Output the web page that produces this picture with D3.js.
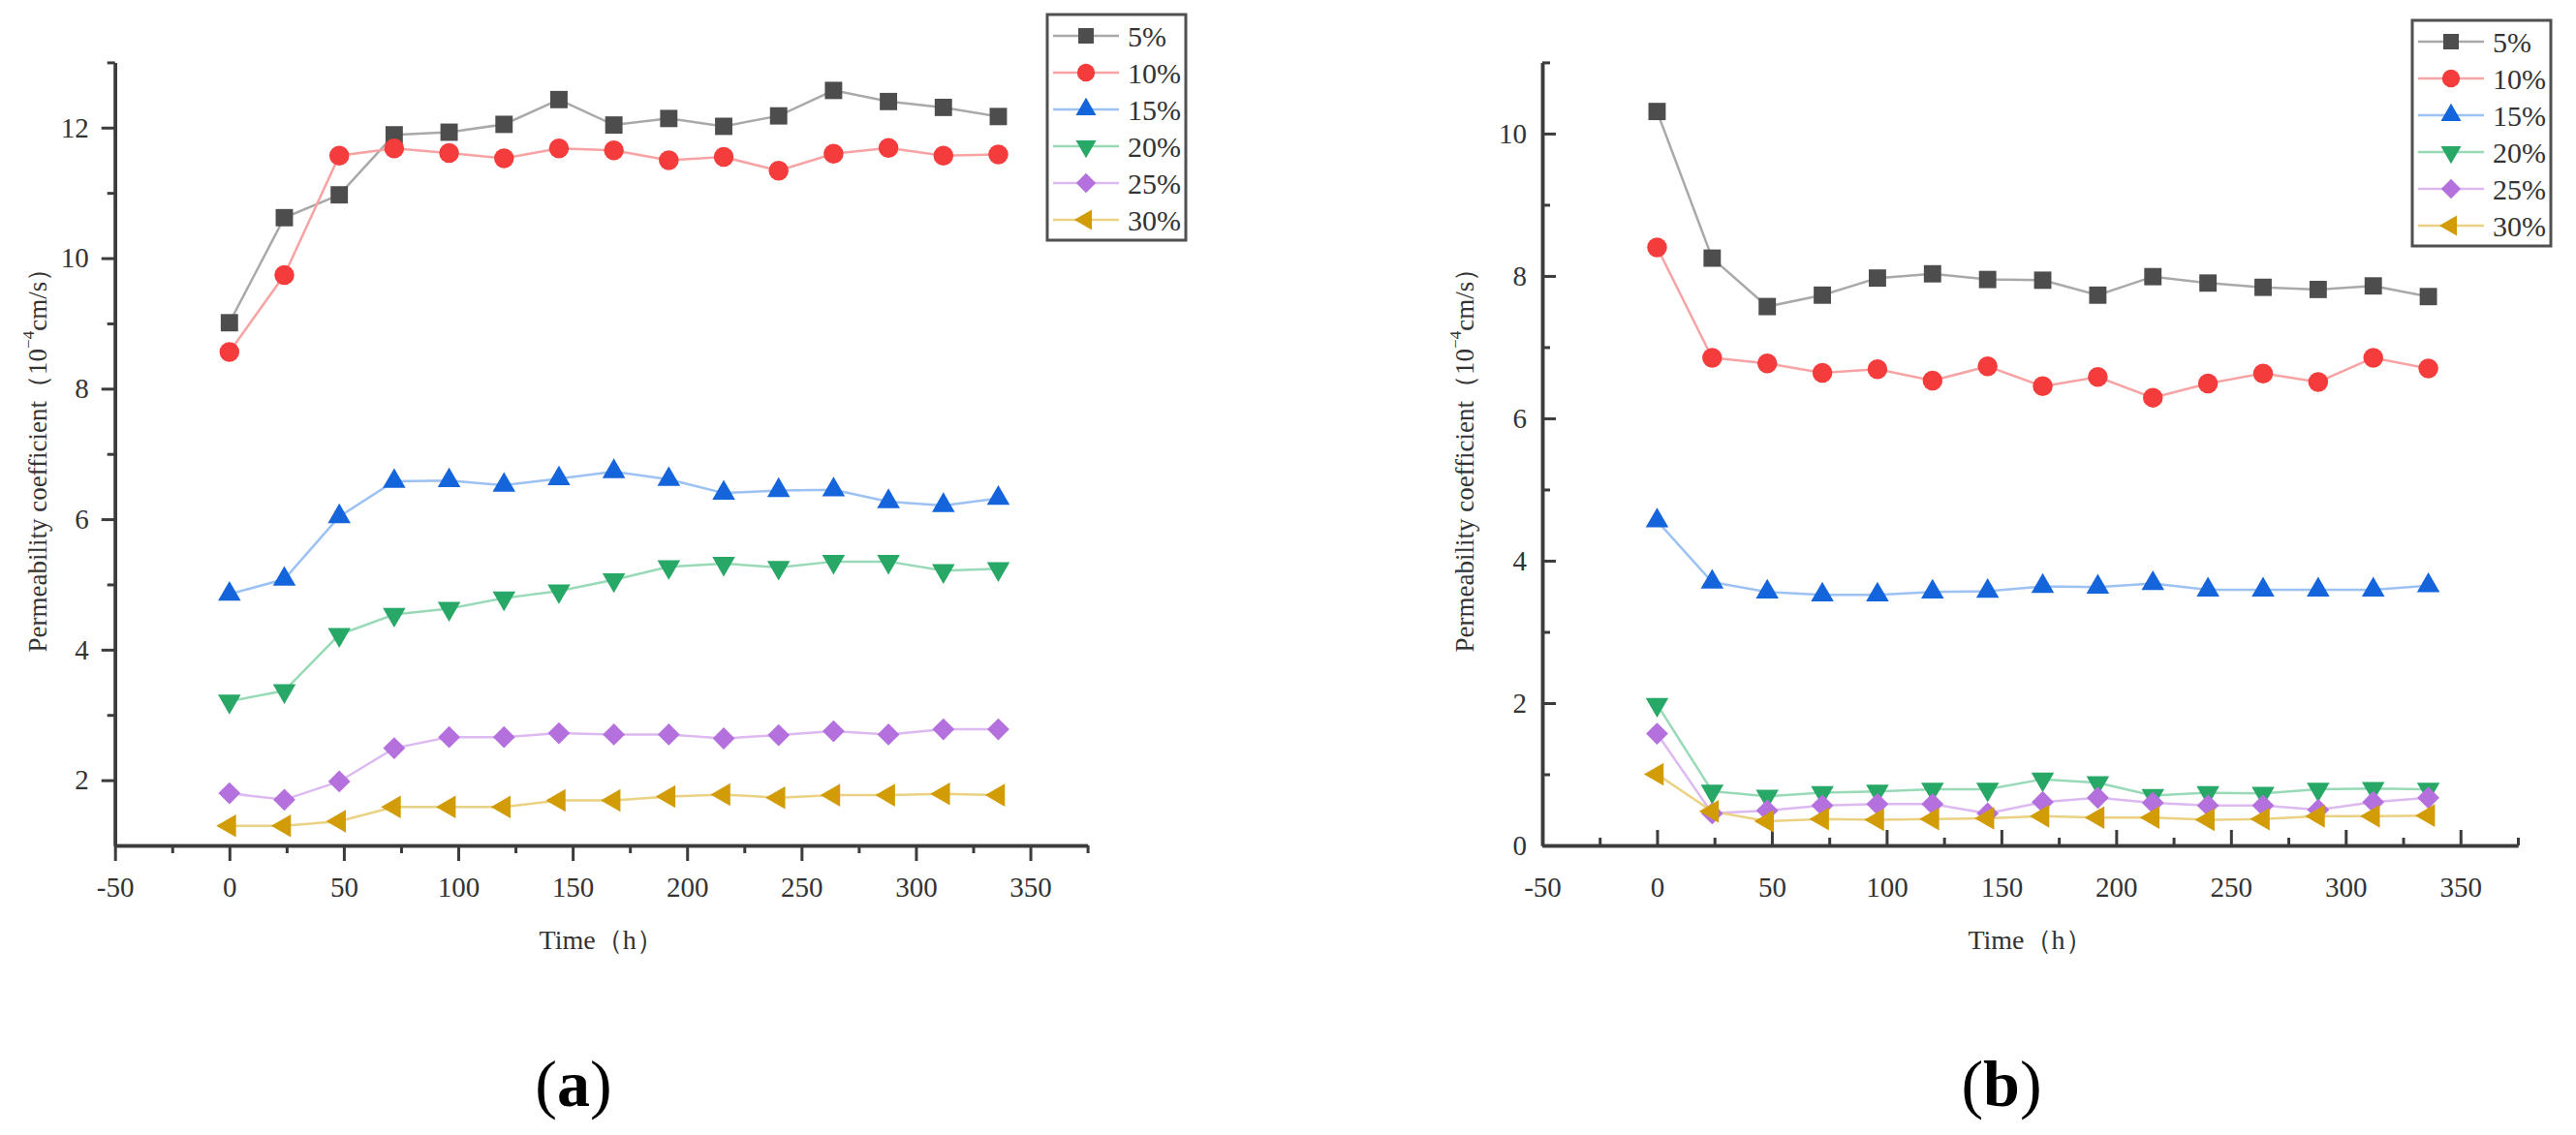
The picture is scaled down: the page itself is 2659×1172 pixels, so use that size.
<!DOCTYPE html>
<html>
<head>
<meta charset="utf-8">
<script src="https://cdn.jsdelivr.net/npm/d3@7/dist/d3.min.js"></script>
<style>
	html, body { margin: 0; padding: 0; background: #ffffff; }
	svg { display: block; }
</style>
</head>
<body>
<script>
// time axis, one sample every 24 h
var times = [0, 24, 48, 72, 96, 120, 144, 168, 192, 216, 240, 264, 288, 312, 336];
var seriesNames = ["5%", "10%", "15%", "20%", "25%", "30%"];

// panel (a)
var a5  = [9.01, 10.62, 10.97, 11.89, 11.93, 12.05, 12.43, 12.04, 12.14, 12.02, 12.18, 12.57, 12.40, 12.31, 12.17];
var a10 = [8.56, 9.74, 11.57, 11.68, 11.61, 11.53, 11.68, 11.65, 11.50, 11.55, 11.34, 11.60, 11.69, 11.57, 11.59];
var a15 = [4.85, 5.08, 6.04, 6.58, 6.59, 6.52, 6.62, 6.73, 6.61, 6.40, 6.44, 6.45, 6.27, 6.21, 6.32];
var a20 = [3.21, 3.37, 4.23, 4.54, 4.63, 4.79, 4.90, 5.07, 5.27, 5.32, 5.26, 5.35, 5.35, 5.21, 5.24];
var a25 = [1.80, 1.70, 1.98, 2.49, 2.66, 2.66, 2.72, 2.70, 2.70, 2.64, 2.69, 2.75, 2.70, 2.78, 2.78];
var a30 = [1.30, 1.30, 1.37, 1.59, 1.59, 1.59, 1.69, 1.69, 1.75, 1.78, 1.73, 1.77, 1.77, 1.79, 1.77];

// panel (b)
var b5  = [10.31, 8.25, 7.57, 7.73, 7.97, 8.03, 7.95, 7.94, 7.73, 7.99, 7.90, 7.84, 7.81, 7.86, 7.71];
var b10 = [8.40, 6.85, 6.77, 6.64, 6.69, 6.53, 6.73, 6.45, 6.58, 6.29, 6.49, 6.63, 6.51, 6.85, 6.70];
var b15 = [4.56, 3.70, 3.56, 3.52, 3.52, 3.56, 3.57, 3.64, 3.63, 3.68, 3.59, 3.59, 3.59, 3.59, 3.65];
var b20 = [1.98, 0.76, 0.69, 0.74, 0.76, 0.79, 0.79, 0.93, 0.88, 0.70, 0.74, 0.73, 0.79, 0.80, 0.79];
var b25 = [1.57, 0.45, 0.49, 0.56, 0.58, 0.58, 0.45, 0.61, 0.67, 0.60, 0.56, 0.56, 0.50, 0.61, 0.67];
var b30 = [1.00, 0.48, 0.34, 0.37, 0.36, 0.37, 0.38, 0.41, 0.39, 0.39, 0.36, 0.37, 0.41, 0.41, 0.42];

var xTicks = [-50, 0, 50, 100, 150, 200, 250, 300, 350];
var xMinorTicks = [-25, 25, 75, 125, 175, 225, 275, 325, 375];
var aTicks = [2, 4, 6, 8, 10, 12];
var aMinorTicks = [3, 5, 7, 9, 11, 13];
var bTicks = [0, 2, 4, 6, 8, 10];
var bMinorTicks = [1, 3, 5, 7, 9, 11];

// marker fill / line colour per series (Origin style: line lighter than marker)
var markerColors = ["#4d4d4d", "#f43c3c", "#1464dc", "#27a866", "#b470dd", "#d19c05"];
var lineColors   = ["#a9a9a9", "#f8a3a3", "#9cc1f3", "#98dab8", "#ddb9f2", "#ebd283"];

var FONT = "'Liberation Serif', 'Times New Roman', serif";

var chart = {};

chart.symbols =
{
	// returns [d3 symbol type, size, rotation]
	get: function(i)
	{
		if (i == 0) { return [d3.symbolSquare, 320, 0]; }
		if (i == 1) { return [d3.symbolCircle, 330, 0]; }
		if (i == 2) { return [d3.symbolTriangle, 240, 0]; }
		if (i == 3) { return [d3.symbolTriangle, 240, 180]; }
		if (i == 4) { return [d3.symbolSquare, 260, 45]; }
		return [d3.symbolTriangle, 240, -90];
	},

	draw: function(g, i, x, y, scl)
	{
		var s = chart.symbols.get(i);
		g.append("path")
			.attr("d", d3.symbol().type(s[0]).size(s[1] * scl)())
			.attr("transform", "translate(" + x + "," + y + ") rotate(" + s[2] + ")")
			.attr("fill", markerColors[i]);
	}
}

// plain hyphen for negatives, like the original figure
var tickFmt = function(d) { return String(d); };

chart.panel =
{
	draw: function(svg, opt)
	{
		var x = d3.scaleLinear().domain([-50, 375]).range([opt.left, opt.right]);
		var y = d3.scaleLinear().domain(opt.yDomain).range([opt.bottom, opt.top]);
		var inward = opt.inward;
		var g = svg.append("g");

		// y axis, major + minor
		var yMajor = d3.axisLeft(y).tickValues(opt.yTicks).tickSizeOuter(0)
			.tickSizeInner(inward ? -14 : 14).tickPadding(inward ? 16 : 13)
			.tickFormat(tickFmt);
		var yMinor = d3.axisLeft(y).tickValues(opt.yMinor).tickSizeOuter(0)
			.tickSizeInner(inward ? -8 : 8).tickFormat("");
		g.append("g").attr("transform", "translate(" + opt.left + ",0)").call(yMinor);
		g.append("g").attr("transform", "translate(" + opt.left + ",0)").call(yMajor);

		// x axis, major + minor
		var xMajor = d3.axisBottom(x).tickValues(xTicks).tickSizeOuter(0)
			.tickSizeInner(inward ? -16 : 16).tickPadding(inward ? 32 : 16)
			.tickFormat(tickFmt);
		var xMinor = d3.axisBottom(x).tickValues(xMinorTicks).tickSizeOuter(0)
			.tickSizeInner(inward ? -8 : 8).tickFormat("");
		g.append("g").attr("transform", "translate(0," + opt.bottom + ")").call(xMinor);
		g.append("g").attr("transform", "translate(0," + opt.bottom + ")").call(xMajor);

		g.selectAll(".domain").attr("stroke", "#3c3c3c").attr("stroke-width", 3.5);
		g.selectAll(".tick line").attr("stroke", "#3c3c3c").attr("stroke-width", 3);
		g.selectAll(".tick text")
			.style("font-family", FONT)
			.style("font-size", "29px")
			.attr("fill", "#333333");

		// axis titles
		var midY = (opt.top + opt.bottom) / 2;
		var yTitle = g.append("text")
			.attr("transform", "translate(" + (opt.left - 80) + "," + midY + ") rotate(-90)")
			.attr("text-anchor", "middle")
			.attr("dominant-baseline", "central")
			.style("font-family", FONT)
			.style("font-size", "27px")
			.attr("fill", "#333333");
		yTitle.append("tspan").text("Permeability coefficient\uFF0810");
		yTitle.append("tspan").text("\u22124").attr("dy", -10).style("font-size", "17px");
		yTitle.append("tspan").text("cm/s\uFF09").attr("dy", 10);

		g.append("text")
			.attr("x", (opt.left + opt.right) / 2)
			.attr("y", 980)
			.attr("text-anchor", "middle")
			.style("font-family", FONT)
			.style("font-size", "28px")
			.attr("fill", "#333333")
			.text("Time\uFF08h\uFF09");

		// series
		var line = d3.line()
			.x(function(d) { return x(d[0]); })
			.y(function(d) { return y(d[1]); });

		for (var i = 0; i < opt.series.length; i++)
		{
			var pts = times.map(function(t, k) { return [t, opt.series[i][k]]; });
			g.append("path")
				.datum(pts)
				.attr("d", line)
				.attr("fill", "none")
				.attr("stroke", lineColors[i])
				.attr("stroke-width", 2.5);
		}
		for (var i = 0; i < opt.series.length; i++)
		{
			for (var k = 0; k < times.length; k++)
			{
				chart.symbols.draw(g, i, x(times[k]), y(opt.series[i][k]), 1);
			}
		}

		// legend
		var lg = g.append("g");
		lg.append("rect")
			.attr("x", opt.legend[0]).attr("y", opt.legend[1])
			.attr("width", 143).attr("height", 233)
			.attr("fill", "#ffffff")
			.attr("stroke", "#505050").attr("stroke-width", 3);
		for (var i = 0; i < seriesNames.length; i++)
		{
			var ry = opt.legend[1] + 22 + i * 38;
			lg.append("line")
				.attr("x1", opt.legend[0] + 6).attr("x2", opt.legend[0] + 74)
				.attr("y1", ry).attr("y2", ry)
				.attr("stroke", lineColors[i]).attr("stroke-width", 2.5);
			chart.symbols.draw(lg, i, opt.legend[0] + 40, ry, 0.8);
			lg.append("text")
				.attr("x", opt.legend[0] + 83).attr("y", ry)
				.attr("dominant-baseline", "central")
				.style("font-family", FONT)
				.style("font-size", "30px")
				.attr("fill", "#333333")
				.text(seriesNames[i]);
		}

		// panel tag, e.g. (a)
		var tag = svg.append("text")
			.attr("x", opt.tagX).attr("y", 1142)
			.attr("text-anchor", "middle")
			.style("font-family", FONT)
			.style("font-size", "68px")
			.attr("fill", "#000000");
		tag.append("tspan").text("(");
		tag.append("tspan").text(opt.tag).style("font-weight", "bold");
		tag.append("tspan").text(")");
	}
}

var svg = d3.select("body").append("svg")
	.attr("width", 2659)
	.attr("height", 1172);

chart.panel.draw(svg, {
	left: 118.7, right: 1122.6, top: 64.4, bottom: 873,
	yDomain: [1, 13], yTicks: aTicks, yMinor: aMinorTicks,
	inward: false,
	series: [a5, a10, a15, a20, a25, a30],
	legend: [1081, 15],
	tag: "a", tagX: 592
});

chart.panel.draw(svg, {
	left: 1592, right: 2599, top: 64.4, bottom: 873,
	yDomain: [0, 11], yTicks: bTicks, yMinor: bMinorTicks,
	inward: true,
	series: [b5, b10, b15, b20, b25, b30],
	legend: [2490, 21],
	tag: "b", tagX: 2066
});
</script>
</body>
</html>
